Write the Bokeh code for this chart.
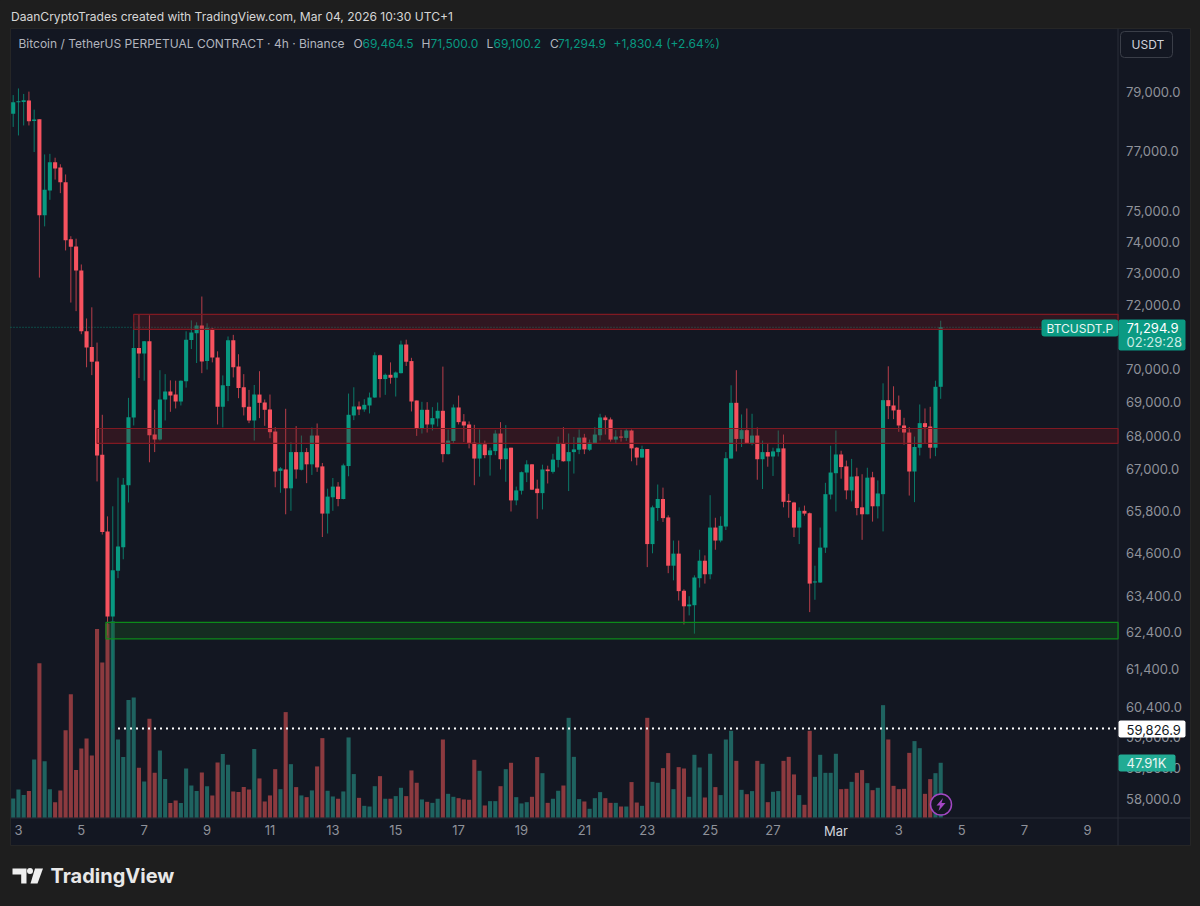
from bokeh.embed import file_html
from bokeh.resources import INLINE
from bokeh.plotting import figure
from bokeh.models import (BoxAnnotation, ColumnDataSource, FixedTicker, Label,
                          LinearScale, NumeralTickFormatter, PolyAnnotation, Range1d)

OPENS = [
78270,78660,78670,78720,78020,78080,74870,75690,76630,76450,
75960,74090,73860,73090,71170,70680,70240,67430,65210,62830,
64100,64760,66540,68540,70650,70480,70860,68030,67880,69080,
69320,69230,69020,69630,70900,71110,71350,70250,71250,70360,
68860,69490,70890,70080,69450,68860,68450,69230,68990,68780,
68120,66960,67000,66450,67510,66990,67510,67150,68000,67090,
65720,66190,66500,66140,67100,68600,68870,68780,68900,69140,
70430,69700,69830,69740,69880,70760,70250,69050,68220,68770,
68330,68510,68740,67450,67840,68840,68420,68330,67790,67320,
67740,67420,67540,68060,67300,67640,66100,66380,66910,67150,
66440,66310,67000,66930,67280,67760,67240,67510,67580,67940,
67580,67760,68010,68540,68480,67880,67970,67930,68150,67640,
67350,67600,64850,65880,66140,65610,64240,64580,63540,63110,
63140,63890,64380,64000,65320,64950,65350,67320,68980,67900,
68160,67750,68000,67300,67510,67380,67510,67620,66090,66040,
65320,65800,65730,63770,63770,64750,66270,66890,67440,67090,
66390,66800,65900,65700,66770,65930,66280,69060,68900,68770,
68300,68090,66940,67640,68370,68270,67640,69464.5]
CLOSES = [
78660,78700,78730,78010,78070,74870,75710,76630,76420,75960,
74060,73850,73090,71170,70670,70230,67410,65190,62830,64110,
64780,66550,68550,70650,70480,70860,68010,67880,69080,69320,
69200,69020,69650,70910,71130,71350,70240,71270,70360,68860,
69510,70890,70060,69430,68850,68450,69230,68980,68770,68100,
66940,67030,66450,67510,67000,67510,67150,68000,67060,65720,
66210,66500,66140,67120,68620,68870,68780,68920,69140,70430,
69700,69830,69740,69900,70760,70230,69020,68220,68770,68330,
68520,68740,67450,67850,68840,68400,68300,67770,67320,67740,
67420,67560,68060,67300,67620,66100,66390,66920,67150,66410,
66310,67000,66950,67290,67750,67240,67510,67590,67940,67590,
67790,68030,68540,68460,67880,67970,67940,68150,67620,67350,
67600,64850,65900,66140,65590,64240,64580,63530,63110,63160,
63910,64380,64000,65320,64950,65370,67330,68980,67900,68160,
67750,68000,67300,67510,67380,67530,67620,66060,66050,65320,
65800,65720,63740,63800,64750,66280,66910,67440,67070,66390,
66790,65880,65700,66760,65930,66300,69060,68880,68750,68300,
68090,66940,67660,68370,68250,67640,69464.5,71294.9]
HIGHS = [
78910,79140,78950,79030,78410,78080,76890,76910,76780,76560,
76220,74190,74110,73280,71570,71920,70820,68620,65640,65930,
66760,66750,69130,71450,71700,70870,71670,68770,69970,69850,
69660,69650,69660,71170,71510,71450,72260,71420,71270,70550,
69810,71010,71060,70460,69850,69370,69520,69940,69080,69230,
68250,67070,68800,67800,68280,68000,67630,68240,68360,67190,
66440,66750,66630,67170,69260,69450,69020,69090,69290,70520,
70450,69870,70210,69930,70880,70910,70350,69050,69010,69000,
68850,68990,70080,68180,68930,69200,68640,68420,68320,68180,
67850,67640,68160,68400,68310,67640,66500,66940,67270,67160,
66700,67140,67110,67460,67970,68250,68060,67960,68180,68050,
67880,68250,68650,68600,68540,68160,68170,68190,68180,67660,
67700,67600,65950,66560,66470,65670,64950,64950,63580,63390,
63970,64690,64530,66250,65600,65640,67510,69510,69970,68630,
68810,68650,68240,67850,67750,67640,68150,68030,66290,66060,
65900,65950,65750,64240,65320,66610,67700,68150,67550,67260,
67310,67050,66860,67050,66930,66680,69570,70090,69480,69200,
68530,68250,67970,68930,68810,68860,69650,71500]
LOWS = [
77820,77530,77870,77870,76970,72860,74510,75380,76050,75600,
73730,72070,71800,71080,70060,69820,66650,65120,62310,59826.9,
63890,64420,66040,68300,69730,69650,67210,67510,67850,68450,
68710,68810,68900,69440,70620,70190,69880,69990,70210,68330,
68240,69030,69750,69120,68600,68370,67850,68520,68290,67920,
66480,66320,65700,65800,66730,66970,66600,66840,66930,65050,
65150,65800,65930,66130,66800,68460,68610,68710,68660,69130,
69140,69220,69560,69170,69870,70100,68720,67990,68060,68090,
68150,68270,67210,67440,67760,68330,67810,67620,66540,66790,
67330,66820,67420,67000,66640,65780,65960,66270,66630,66400,
65570,65840,66590,66880,67060,67230,66370,66880,67450,67450,
67540,67750,67850,68030,67820,67750,67820,67840,67240,67120,
67340,64200,64590,65510,65480,64030,63830,63270,62610,62860,
62360,63630,63740,63860,64690,64900,65250,67320,67530,67660,
67750,67710,66700,66430,67080,66810,67380,65900,65600,65050,
64850,65660,62950,63290,63760,64600,66130,65780,66730,66130,
66070,65670,64970,65700,65490,65580,65210,68490,68490,68110,
67730,66240,66050,67410,67750,67320,67390,69100.2]
VOLUMES_K = [
16.6,24.5,19.6,23.1,50.8,135,49.3,24.8,13.4,23.7,
76.5,108,41.5,60.4,69.2,54.3,165,135.7,170,172,
68.3,52.9,103,105,43.5,31.5,86.4,39.1,58.7,33.6,
12.6,14.9,12.6,42.9,28,23.1,39.4,27.4,19.3,48.2,
55.5,46.1,22.8,22.2,26.6,24.5,59.9,34.2,14,19.3,
42.3,24.8,92.3,46.7,26.6,19.3,17.8,23.7,44.7,69.5,
23.4,18.4,16.4,22.8,70.1,38,17.2,10.2,9.6,27.4,
36.2,16.4,16.4,18.7,26,18.7,41.2,30.4,15.8,13.7,
12.8,16.4,68.3,20.7,18.1,16.9,15.8,15.5,50.5,40.9,
10.5,14.3,14.3,27.4,42.3,47.9,17.8,12.3,13.4,18.1,
52.9,38.8,12.8,16.4,23.4,28,87.3,53.1,16.1,14,
7.6,16.9,22.2,16.9,12.8,12.8,9.6,9.6,31,13.1,
10.2,87.3,31.2,30.4,43.2,56.4,24.8,44.1,42.9,18.1,
54.9,43.8,17.5,55.8,26.6,19.6,68.3,75.9,49.6,24.2,
20.4,23.1,49.6,47,13.4,22.5,23.1,49.6,53.1,37.7,
19.6,11.1,75.9,35.6,54.9,39.1,39.1,55.8,24.8,25.1,
31.2,39.1,41.5,30.1,23.9,26,98.4,68.3,27.7,24.8,
25.1,56.6,66.9,60.7,20.7,33.6,38.8,47.91]

PRICE_TICKS = [79000,77000,75000,74000,73000,72000,70000,69000,68000,67000,
               65800,64600,63400,62400,61400,60400,59600,58800,58000]
DATE_TICKS = [1,13,25,37,49,61,73,85,97,109,121,133,145,157,169,181,193,205]
DATE_LABELS = ["3","5","7","9","11","13","15","17","19","21","23","25","27","Mar","3","5","7","9"]

RED_ZONES = [(23, 71700, 71230), (16, 68210, 67770)]
GREEN_ZONES = [(17.7, 62670, 62220)]
LAST_PRICE = 71294.9
SESSION_LOW = 59826.9
LOW_START = 20
PLOT_LEFT_INDEX = -0.515
PLOT_RIGHT_INDEX = 210.85
PLOT_BOTTOM_PRICE = 57530

BG = "#1e1e1e"; PANEL = "#131722"; GRID = "#2a2e39"
UP = "#089981"; DOWN = "#f7525f"
FONT = "Inter"

# The frame fills the page so that tags, header and logo are not clipped to it.
p = figure(width=1200, height=906, output_backend="svg", toolbar_location=None,
           y_axis_type="log", y_axis_location="right",
           x_range=Range1d(-2.4237, 226.58), y_range=Range1d(55350, 82241),
           min_border_left=0, min_border_right=0, min_border_top=0, min_border_bottom=0,
           border_fill_color=BG, background_fill_color=BG, outline_line_color=None)
p.extra_y_ranges = {"vol": Range1d(-78, 715.7)}
p.extra_y_scales = {"vol": LinearScale()}
p.grid.visible = False

def box(l, t, r, b, fill, radius=0, line=None, level="overlay", lw=1):
    p.add_layout(BoxAnnotation(left=l, right=r, top=t, bottom=b,
                 left_units="canvas", right_units="canvas", top_units="canvas", bottom_units="canvas",
                 fill_color=fill, fill_alpha=1 if fill else 0, line_color=line, line_alpha=1, line_width=lw,
                 border_radius=radius, level=level))

def text(x, y, s, color="#b2b5be", size=13, style="normal", align="left", font=FONT):
    p.add_layout(Label(x=x, y=y, x_units="canvas", y_units="canvas", text=s, text_color=color,
                       text_font=font, text_font_size=f"{size}px", text_font_style=style,
                       text_align=align, text_baseline="middle", level="overlay"))

def poly(xs, ys, fill):
    p.add_layout(PolyAnnotation(xs=xs, ys=ys, xs_units="canvas", ys_units="canvas",
                                fill_color=fill, fill_alpha=1, line_color=None, level="overlay"))

box(10, 28, 1190, 845, PANEL, line="#262626", level="underlay")
box(1117, 28, 1118, 845, GRID, level="underlay")
box(10, 817, 1190, 818, GRID, level="underlay")

idx = list(range(len(OPENS)))
up = [c >= o for o, c in zip(OPENS, CLOSES)]
src = ColumnDataSource(dict(
    x=idx, o=OPENS, c=CLOSES, h=HIGHS, l=LOWS, v=VOLUMES_K,
    top=[max(a, b) for a, b in zip(OPENS, CLOSES)],
    bot=[min(a, b) for a, b in zip(OPENS, CLOSES)],
    body=[UP if u else DOWN for u in up],
    wick=["#0b7a69" if u else "#b83e4a" for u in up],
    vol=["#1f6360" if u else "#8c3a3f" for u in up],
))

p.vbar(x="x", width=0.78, bottom=0, top="v", source=src, fill_color="vol", line_color=None, y_range_name="vol")
last_line = p.segment(x0=[PLOT_LEFT_INDEX], x1=[PLOT_RIGHT_INDEX], y0=[LAST_PRICE], y1=[LAST_PRICE],
                      line_color="#0a7c6b", line_width=1)
last_line.glyph.line_dash = [1, 2]
p.segment(x0="x", x1="x", y0="l", y1="h", source=src, line_color="wick", line_width=1)
p.vbar(x="x", width=0.78, bottom="bot", top="top", source=src, fill_color="body", line_color=None)

for left, top, bot in RED_ZONES:
    p.quad(left=left, right=PLOT_RIGHT_INDEX, top=top, bottom=bot, fill_color="#801922", fill_alpha=0.27,
           line_color="#801922", line_width=1.2)
for left, top, bot in GREEN_ZONES:
    p.quad(left=left, right=PLOT_RIGHT_INDEX, top=top, bottom=bot, fill_color="#1b5e20", fill_alpha=0.3,
           line_color="#0d8a1a", line_width=1.2)
low_line = p.segment(x0=[LOW_START], x1=[PLOT_RIGHT_INDEX], y0=[SESSION_LOW], y1=[SESSION_LOW],
                     line_color="#ffffff", line_width=2)
low_line.glyph.line_dash = [2, 4]

ya = p.yaxis[0]
ya.fixed_location = PLOT_RIGHT_INDEX
ya.ticker = FixedTicker(ticks=PRICE_TICKS)
ya.formatter = NumeralTickFormatter(format="0,0.0")
ya.major_tick_line_color = None; ya.minor_tick_line_color = None
ya.major_tick_out = 0; ya.major_tick_in = 0
ya.axis_line_color = None
ya.major_label_standoff = 8
ya.major_label_text_color = "#8f929a"; ya.major_label_text_font = FONT; ya.major_label_text_font_size = "13px"

xa = p.xaxis[0]
xa.fixed_location = PLOT_BOTTOM_PRICE
xa.ticker = FixedTicker(ticks=DATE_TICKS)
xa.major_label_overrides = {t: ("" if l == "Mar" else l) for t, l in zip(DATE_TICKS, DATE_LABELS)}
xa.major_tick_line_color = None; xa.minor_tick_line_color = None
xa.major_tick_out = 0; xa.major_tick_in = 0
xa.axis_line_color = None
xa.major_label_standoff = 7
xa.major_label_text_color = "#8f929a"; xa.major_label_text_font = FONT; xa.major_label_text_font_size = "13px"

p.add_layout(Label(x=DATE_TICKS[DATE_LABELS.index("Mar")], y=830.5, y_units="canvas", text="Mar", text_color="#d1d4dc",
                   text_font=FONT, text_font_size="13px", text_align="center", text_baseline="middle"))

# header
text(10.5, 16, "DaanCryptoTrades created with TradingView.com, Mar 04, 2026 10:30 UTC+1", "#d6d6d6", 12.05)
text(18, 43, "Bitcoin / TetherUS PERPETUAL CONTRACT · 4h · Binance", "#b2b5be", 12)
for x, lab in [(353, "O"), (421, "H"), (486, "L"), (549.5, "C")]:
    text(x, 43, lab, "#b2b5be", 12)
for x, val in [(362, "69,464.5"), (430, "71,500.0"), (493, "69,100.2"), (557.5, "71,294.9"), (613, "+1,830.4 (+2.64%)")]:
    text(x, 43, val, "#089981", 12)

# USDT box
box(1120, 31, 1172, 57, None, 4, "#3a3e48")
text(1131, 44, "USDT", "#d1d4dc", 12)

# last price tags
box(1041, 319, 1118, 336, "#0b9a83", 3)
text(1046, 327.5, "BTCUSDT.P", "#e8f5f2", 12)
box(1118, 319, 1185, 350, "#0b9a83", 2)
text(1126, 327.5, "71,294.9", "#ffffff", 13)
text(1126, 341.5, "02:29:28", "#c9ebe4", 13)

box(1118, 720, 1185, 737, "#ffffff", 2)
text(1126, 729, "59,826.9", "#131722", 13)
box(1118, 754, 1175, 771, "#22ab94", 2)
text(1126, 762.5, "47.91K", "#e8f5f2", 13)

# bolt icon
box(930, 793.5, 951, 814.5, "#131722", 11, "#a347c4", lw=1.5)
poly([942.5, 936, 939.5, 938, 945, 941], [797.5, 805, 805, 810.5, 802.5, 802.5], "#a347c4")

# logo
poly([12, 26, 26, 20.7, 20.7, 18, 18, 12], [868, 868, 883, 883, 874, 874, 874, 874], "#efefef")
box(26.5, 867.5, 32.5, 873.5, "#efefef", 3)
poly([34.5, 42.5, 37, 30], [868, 868, 883, 883], "#efefef")
text(50, 875.7, "TradingView", "#e8e8e8", 20, "bold")

html = file_html(p, INLINE, title="BTCUSDT.P 4h")
html = html.replace("</head>", "<style>html,body{background:#1e1e1e;margin:0;padding:0;overflow:hidden}</style></head>")
open("out.html", "w").write(html)
